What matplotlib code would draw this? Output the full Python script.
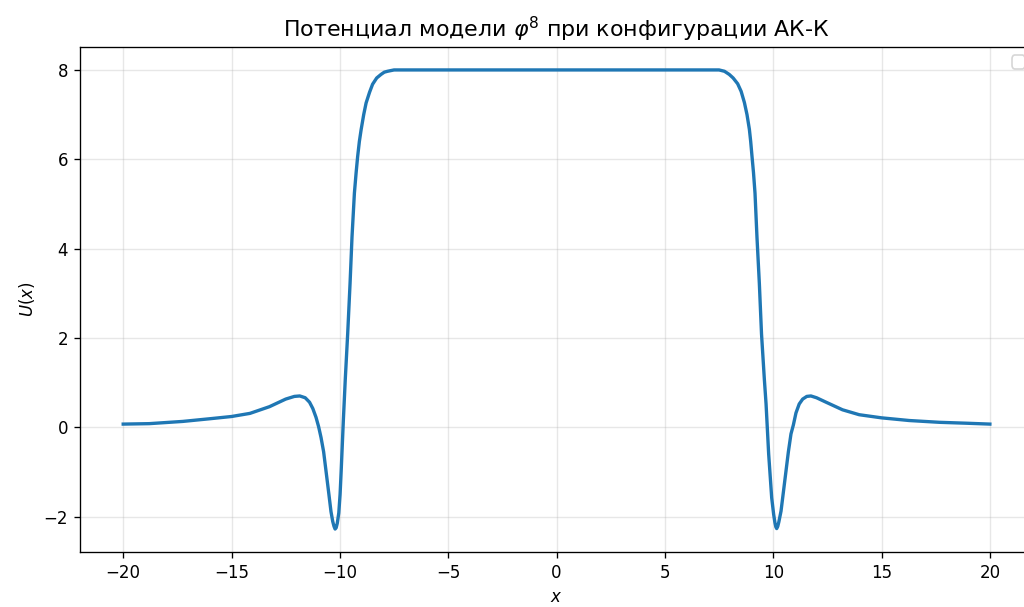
import matplotlib
matplotlib.use("Agg")
import matplotlib.pyplot as plt

# Potential U(x) for the anti-kink/kink configuration, sampled along x
x_vals = [
    -20.0, -18.8, -17.25, -16.0, -15.0, -14.15, -13.25, -12.5, -12.1, -11.85,
    -11.6, -11.4, -11.25, -11.1, -10.98, -10.87, -10.75, -10.64, -10.52, -10.41,
    -10.33, -10.27, -10.22, -10.17, -10.12, -10.05, -9.99, -9.94, -9.84, -9.75,
    -9.64, -9.53, -9.44, -9.33, -9.25, -9.18, -9.10, -9.02, -8.90, -8.79,
    -8.63, -8.49, -8.30, -8.10, -7.95, -7.80, -7.50, -7.20, -6.0,
    0.0, 6.0,
    7.20, 7.50, 7.75, 7.97, 8.15, 8.36, 8.52, 8.67, 8.79, 8.90,
    8.96, 9.02, 9.09, 9.16, 9.25, 9.36, 9.46, 9.59, 9.67, 9.79,
    9.93, 10.02, 10.08, 10.12, 10.16, 10.21, 10.26, 10.36, 10.47, 10.59,
    10.70, 10.82, 10.93, 11.05, 11.20, 11.36, 11.55, 11.74, 12.0, 12.44,
    13.2, 13.97, 15.0, 16.28, 17.67, 18.9, 20.0,
]
u_vals = [
    0.07, 0.08, 0.13, 0.19, 0.24, 0.31, 0.46, 0.63, 0.69, 0.70,
    0.66, 0.56, 0.42, 0.22, 0.01, -0.23, -0.55, -0.98, -1.45, -1.89,
    -2.11, -2.22, -2.28, -2.25, -2.15, -1.92, -1.50, -0.98, 0.15, 1.08,
    2.09, 3.22, 4.26, 5.24, 5.70, 6.06, 6.40, 6.66, 7.00, 7.26,
    7.50, 7.68, 7.82, 7.90, 7.95, 7.97, 8.0, 8.0, 8.0,
    8.0, 8.0,
    8.0, 8.0, 7.97, 7.90, 7.82, 7.69, 7.52, 7.27, 7.00, 6.67,
    6.40, 6.07, 5.70, 5.24, 4.26, 3.22, 2.09, 1.08, 0.52, -0.60,
    -1.58, -1.95, -2.14, -2.23, -2.27, -2.22, -2.12, -1.88, -1.45, -0.98,
    -0.55, -0.15, 0.05, 0.32, 0.52, 0.63, 0.69, 0.70, 0.66, 0.56,
    0.39, 0.28, 0.21, 0.15, 0.11, 0.09, 0.07,
]

fig = plt.figure(figsize=(1024 / 120, 607 / 120), dpi=120)
ax = fig.add_axes([0.078, 0.0906, 0.931, 0.832])

ax.plot(x_vals, u_vals, color="C0", linewidth=2)

ax.set_title("Потенциал модели $\\varphi^8$ при конфигурации АК-К", fontsize=13.3)
ax.set_xlabel("$x$")
ax.set_ylabel("$U(x)$")
ax.grid(True, alpha=0.3)
ax.legend(handles=[], loc="upper right")

fig.savefig("out.png", dpi=120)
